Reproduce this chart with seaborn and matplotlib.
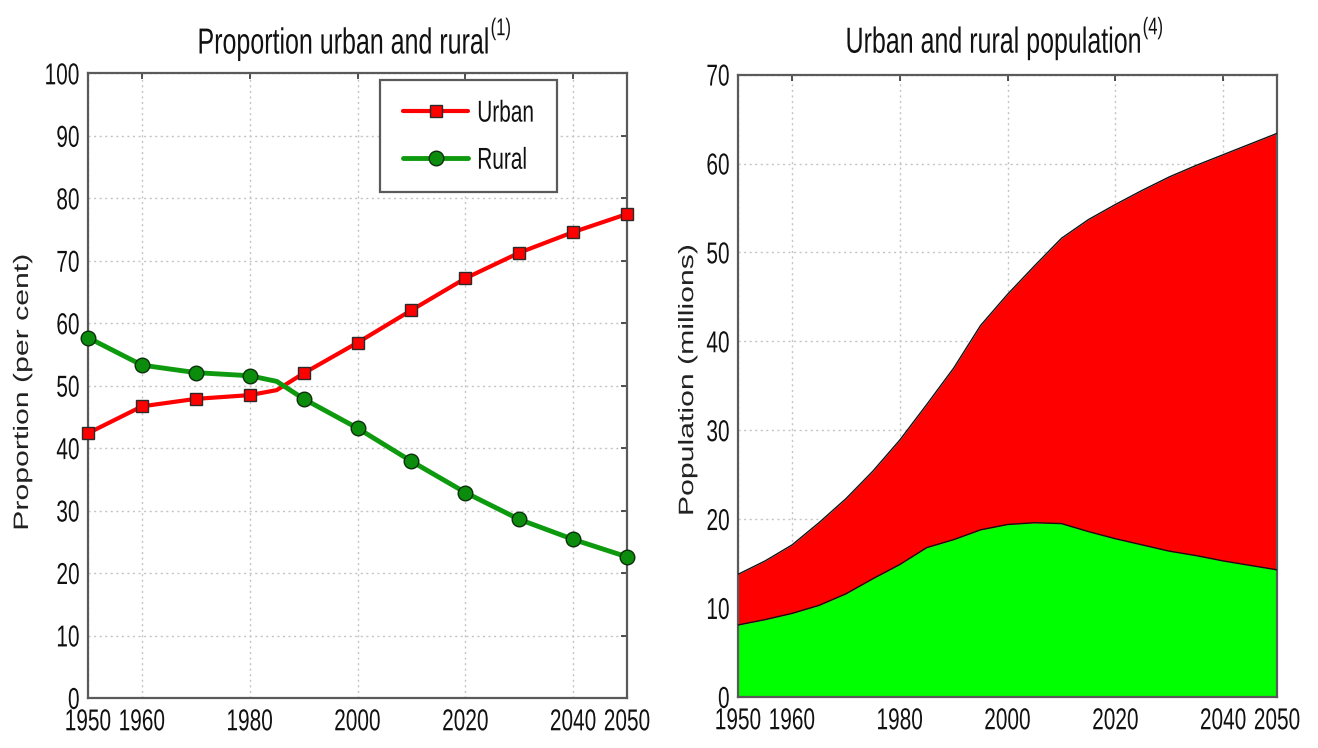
import matplotlib
matplotlib.use("Agg")
import matplotlib.pyplot as plt
import seaborn as sns
from matplotlib.lines import Line2D
from matplotlib.patheffects import AbstractPathEffect
from matplotlib.transforms import Affine2D, IdentityTransform

# ---- data -------------------------------------------------------------
share_years = [1950, 1960, 1970, 1980, 1985, 1990, 2000, 2010, 2020, 2030, 2040, 2050]
urban_share = [42.4, 46.7, 47.9, 48.5, 49.3, 52.0, 56.9, 62.1, 67.2, 71.3, 74.6, 77.5]
rural_share = [57.7, 53.3, 52.1, 51.6, 50.7, 47.9, 43.2, 37.9, 32.9, 28.6, 25.4, 22.6]
marker_years = [1950, 1960, 1970, 1980, 1990, 2000, 2010, 2020, 2030, 2040, 2050]

pop_years = [1950, 1955, 1960, 1965, 1970, 1975, 1980, 1985, 1990, 1995, 2000,
             2005, 2010, 2015, 2020, 2025, 2030, 2035, 2040, 2045, 2050]
total_pop = [13.8, 15.3, 17.1, 19.6, 22.3, 25.4, 28.9, 32.9, 37.0, 41.8, 45.3,
             48.5, 51.6, 53.7, 55.4, 57.0, 58.5, 59.8, 61.0, 62.2, 63.4]
rural_pop = [8.1, 8.7, 9.4, 10.3, 11.6, 13.3, 14.9, 16.8, 17.7, 18.8, 19.4,
             19.6, 19.5, 18.6, 17.8, 17.1, 16.4, 15.9, 15.3, 14.8, 14.3]

x_ticks = [1950, 1960, 1980, 2000, 2020, 2040, 2050]
series_labels = ["Urban", "Rural"]
title_texts = ["Proportion urban and rural", "Urban and rural population"]
title_notes = ["(1)", "(4)"]
y_labels = ["Proportion (per cent)", "Population (millions)"]

# ---- style ------------------------------------------------------------
sns.set_theme(style="white")
plt.rcParams["font.family"] = ["Liberation Sans", "DejaVu Sans"]

URBAN_LINE = "#ff0000"
RURAL_LINE = "#0e9a0e"
URBAN_AREA = "#ff0000"
RURAL_AREA = "#00ff00"
FRAME = "#5a5a5a"
GRID = "#c4c4c4"
TEXT = "#111111"
STRETCH = 1.45


class Stretch(AbstractPathEffect):
    """Tall, condensed lettering: scale glyph outlines along one local axis."""

    def __init__(self, factor, axis="y"):
        super().__init__()
        self.factor = factor
        self.axis = axis

    def draw_path(self, renderer, gc, tpath, affine, rgbFace=None):
        if self.axis == "y":
            c = 36.0  # middle of the cap height in text-path units
            t = Affine2D().translate(0, -c).scale(1, self.factor).translate(0, c)
        else:
            ext = tpath.get_extents()
            c = 0.5 * (ext.x0 + ext.x1)
            t = Affine2D().translate(-c, 0).scale(self.factor, 1).translate(c, 0)
        renderer.draw_path(gc, tpath, t + affine, rgbFace)


tall = [Stretch(STRETCH, "y")]
long_ = [Stretch(STRETCH, "x")]

fig = plt.figure(figsize=(13.18, 7.48), dpi=100, facecolor="white")
ax1 = fig.add_axes([0.0668, 0.0668, 0.409, 0.835])
ax2 = fig.add_axes([0.560, 0.0682, 0.409, 0.832])


def frame(ax, ymax, ystep):
    ax.set_xlim(1950, 2050)
    ax.set_ylim(0, ymax)
    ax.set_xticks(x_ticks)
    ax.set_yticks(range(0, ymax + 1, ystep))
    ax.grid(True, linestyle=(0, (1.5, 2.5)), color=GRID, linewidth=1.0)
    ax.set_axisbelow(True)
    for s in ax.spines.values():
        s.set_visible(True)
        s.set_color(FRAME)
        s.set_linewidth(1.6)
    ax.tick_params(direction="in", top=True, right=True, length=4, width=1.2,
                   color="#333333", labelcolor=TEXT, labelsize=15)
    ax.tick_params(axis="x", pad=10)
    ax.tick_params(axis="y", pad=6)
    for lbl in ax.get_xticklabels() + ax.get_yticklabels():
        lbl.set_path_effects(tall)


def titled(ax, text, note, y):
    t = ax.text(0.474, y, text, transform=ax.transAxes, ha="center", va="baseline",
                fontsize=18, color=TEXT, path_effects=tall)
    fig.canvas.draw()
    bb = t.get_window_extent()
    base = ax.transAxes.transform((0.474, y))[1]
    ax.text(bb.x1 + 1, base + 17, note, transform=IdentityTransform(), ha="left",
            va="baseline", fontsize=12, color=TEXT, path_effects=tall)


def ylabel(ax, text, xpos, ypos):
    ax.set_ylabel(text, fontsize=15, color="#222222")
    ax.yaxis.label.set_path_effects(long_)
    ax.yaxis.set_label_coords(xpos, ypos)


# ---- left: share of population ----------------------------------------
frame(ax1, 100, 10)
mark_idx = [share_years.index(y) for y in marker_years]
sns.lineplot(x=share_years, y=urban_share, ax=ax1, color=URBAN_LINE, lw=3,
             marker="s", markevery=mark_idx, ms=9, mfc="#ff0000", mec="#2a2a2a",
             mew=1.0, zorder=3, clip_on=False)
sns.lineplot(x=share_years, y=rural_share, ax=ax1, color=RURAL_LINE, lw=3.5,
             marker="o", markevery=mark_idx, ms=10.5, mfc="#0c8c0c", mec="#0a2e0a",
             mew=1.0, zorder=3, clip_on=False)
ax1.set_xlabel("")
ylabel(ax1, y_labels[0], -0.104, 0.49)

handles = [
    Line2D([], [], color=URBAN_LINE, lw=3, marker="s", ms=9, mfc="#ff0000", mec="#2a2a2a"),
    Line2D([], [], color=RURAL_LINE, lw=3.5, marker="o", ms=10.5, mfc="#0c8c0c", mec="#0a2e0a"),
]
leg = ax1.legend(handles, series_labels, loc="upper right", bbox_to_anchor=(0.870, 0.989),
                 fontsize=15, frameon=True, fancybox=False, framealpha=1,
                 handlelength=3.1, handletextpad=0.45, labelspacing=1.35,
                 borderpad=1.1, borderaxespad=0)
leg.get_frame().set_edgecolor(FRAME)
leg.get_frame().set_linewidth(1.6)
for txt in leg.get_texts():
    txt.set_path_effects(tall)
    txt.set_color(TEXT)

# ---- right: population stacked areas ----------------------------------
frame(ax2, 70, 10)
ax2.fill_between(pop_years, 0, rural_pop, color=RURAL_AREA, linewidth=0, zorder=2)
ax2.fill_between(pop_years, rural_pop, total_pop, color=URBAN_AREA, linewidth=0, zorder=2)
sns.lineplot(x=pop_years, y=rural_pop, ax=ax2, color="#111111", lw=1.0, zorder=3)
sns.lineplot(x=pop_years, y=total_pop, ax=ax2, color="#111111", lw=1.0, zorder=3)
ax2.set_xlabel("")
ylabel(ax2, y_labels[1], -0.076, 0.51)

titled(ax1, title_texts[0], title_notes[0], 1.0384)
titled(ax2, title_texts[1], title_notes[1], 1.0418)

fig.savefig("out.png", dpi=100, facecolor="white")
